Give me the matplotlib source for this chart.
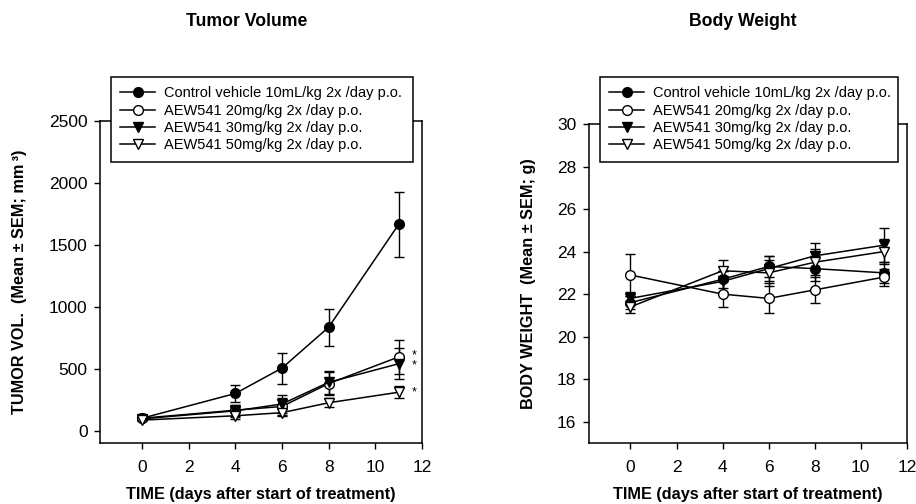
import numpy as np
import matplotlib.pyplot as plt

plt.rcParams['font.family'] = ['Liberation Sans', 'DejaVu Sans']

days = [0, 4, 6, 8, 11]
labels = ['Control vehicle 10mL/kg 2x /day p.o.',
          'AEW541 20mg/kg 2x /day p.o.',
          'AEW541 30mg/kg 2x /day p.o.',
          'AEW541 50mg/kg 2x /day p.o.']

# tumor volume (mm3)
tv_ctrl = [100, 300, 505, 835, 1665]
tv_ctrl_err = [15, 65, 125, 150, 260]
tv_20 = [100, 165, 195, 380, 595]
tv_20_err = [10, 45, 70, 90, 140]
tv_30 = [95, 160, 215, 390, 540]
tv_30_err = [10, 50, 75, 95, 125]
tv_50 = [85, 120, 145, 225, 310]
tv_50_err = [10, 25, 30, 35, 50]
star_y = [610, 525, 310]

# body weight (g)
bw_ctrl = [21.6, 22.7, 23.3, 23.2, 23.0]
bw_ctrl_err = [0.3, 0.4, 0.5, 0.6, 0.5]
bw_20 = [22.9, 22.0, 21.8, 22.2, 22.8]
bw_20_err = [1.0, 0.6, 0.7, 0.6, 0.4]
bw_30 = [21.8, 22.6, 23.2, 23.8, 24.3]
bw_30_err = [0.3, 0.5, 0.6, 0.6, 0.8]
bw_50 = [21.4, 23.1, 23.0, 23.5, 24.0]
bw_50_err = [0.3, 0.5, 0.6, 0.6, 0.6]

styles = [dict(marker='o', mfc='black'),
          dict(marker='o', mfc='white'),
          dict(marker='v', mfc='black'),
          dict(marker='v', mfc='white')]

fig = plt.figure(figsize=(9.16, 5.04), dpi=100)
ax1 = fig.add_axes([0.1092, 0.121, 0.3515, 0.639])
ax2 = fig.add_axes([0.643, 0.121, 0.347, 0.633])


def draw(ax, series, errs):
    for y, e, st, lab in zip(series, errs, styles, labels):
        ax.errorbar(days, y, yerr=e, color='black', lw=1.1, ms=7,
                    mec='black', mew=1.0, capsize=3.5, elinewidth=1.0,
                    capthick=1.0, label=lab, **st)
    ax.set_xlim(-1.8, 12)
    ax.set_xticks([0, 2, 4, 6, 8, 10, 12])
    ax.tick_params(direction='out', length=4, width=1, labelsize=12.5)
    ax.tick_params(axis='x', pad=8)
    ax.tick_params(axis='y', pad=5)
    for s in ax.spines.values():
        s.set_linewidth(1.1)
    ax.set_xlabel('TIME (days after start of treatment)', fontsize=11.7,
                  fontweight='bold', labelpad=9)


draw(ax1, [tv_ctrl, tv_20, tv_30, tv_50],
     [tv_ctrl_err, tv_20_err, tv_30_err, tv_50_err])
ax1.set_ylim(-100, 2500)
ax1.set_yticks([0, 500, 1000, 1500, 2000, 2500])
ax1.set_ylabel('TUMOR VOL.  (Mean \u00b1 SEM; mm\u2009\u00b3)', fontsize=11.7,
               fontweight='bold', labelpad=16)
for yy in star_y:
    ax1.text(11.55, yy, '*', fontsize=9, ha='left', va='center')

draw(ax2, [bw_ctrl, bw_20, bw_30, bw_50],
     [bw_ctrl_err, bw_20_err, bw_30_err, bw_50_err])
ax2.set_ylim(15, 30)
ax2.set_yticks([16, 18, 20, 22, 24, 26, 28, 30])
ax2.set_ylabel('BODY WEIGHT  (Mean \u00b1 SEM; g)', fontsize=11.7,
               fontweight='bold', labelpad=15)

for ax, x0, x1 in [(ax1, 110.7, 412.7), (ax2, 600, 898)]:
    h, l = ax.get_legend_handles_labels()
    h = [hh[0] for hh in h]
    leg = ax.legend(h, l, loc='upper left', fontsize=10.5,
                    bbox_to_anchor=(x0 / 916, 1 - 77 / 504, (x1 - x0) / 916, 0),
                    bbox_transform=fig.transFigure, borderaxespad=0,
                    fancybox=False, framealpha=1, edgecolor='black',
                    handlelength=2.4, handletextpad=0.6, labelspacing=0.22,
                    borderpad=0.65, mode='expand')
    leg.get_frame().set_linewidth(1.1)

fig.text(247 / 916, 1 - 21 / 504, 'Tumor Volume', ha='center', va='center',
         fontsize=12.7, fontweight='bold')
fig.text(743 / 916, 1 - 21 / 504, 'Body Weight', ha='center', va='center',
         fontsize=12.7, fontweight='bold')

fig.savefig('out.png', dpi=100)
